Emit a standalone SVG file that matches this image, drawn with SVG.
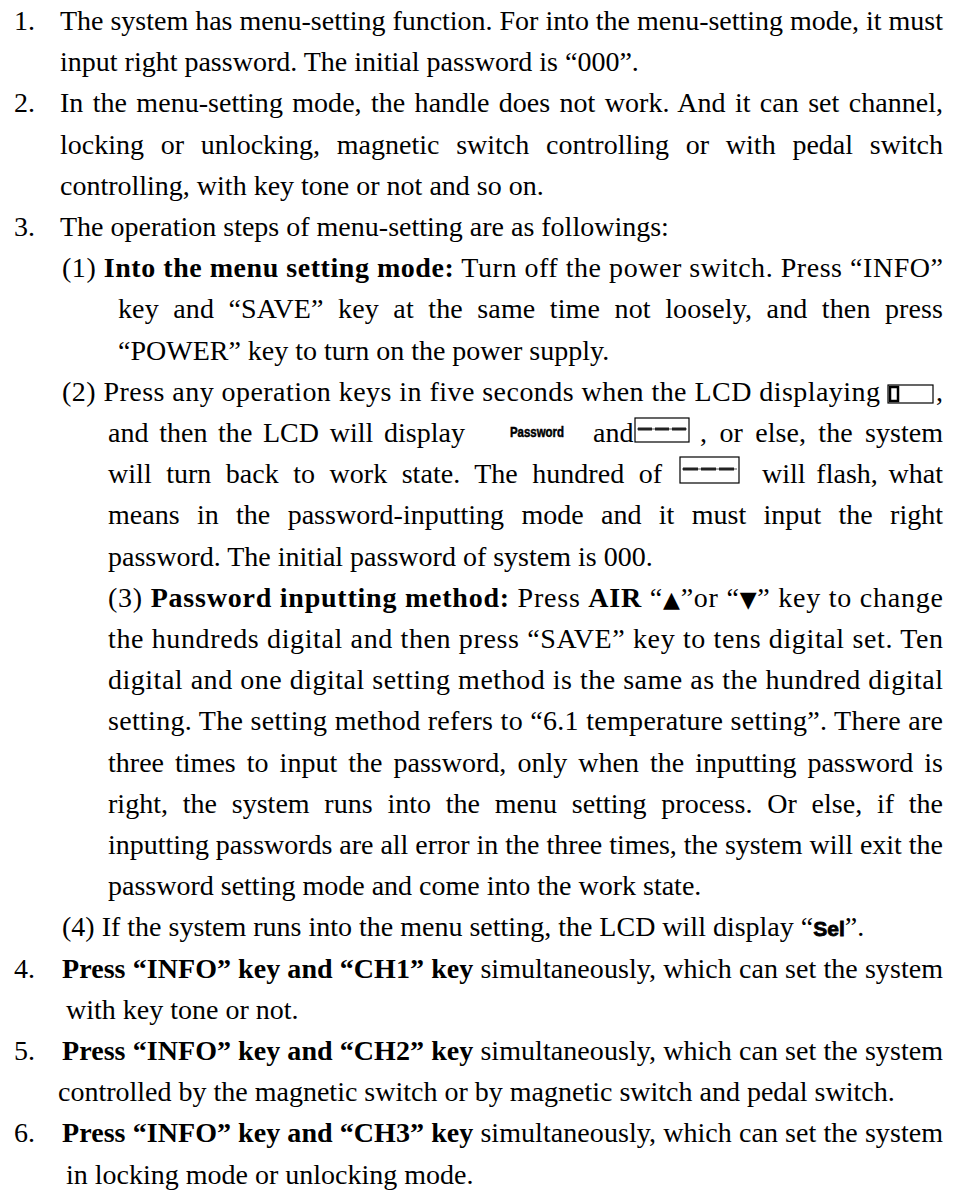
<svg xmlns="http://www.w3.org/2000/svg" width="955" height="1197" viewBox="0 0 955 1197">
<style>
.t{font-family:"Liberation Serif","Times New Roman",serif;font-size:28px;fill:#000}
.b{font-weight:bold}
.lcd{font-family:"Liberation Sans",Arial,sans-serif;font-weight:900;fill:#000;stroke:#000}
.box{fill:#fff;stroke:#000;stroke-width:1.2}
.dash{fill:#222}
</style>
<rect width="955" height="1197" fill="#fff"/>
<g id="p1">
<text class="t" x="14" y="30">1.</text>
<text class="t" x="60" y="30" textLength="883" lengthAdjust="spacing">The system has menu-setting function. For into the menu-setting mode, it must</text>
<text class="t" x="60" y="71.2">input right password. The initial password is “000”.</text>
</g>
<g id="p2">
<text class="t" x="14" y="112.4">2.</text>
<text class="t" x="60" y="112.4" word-spacing="2.3" textLength="883" lengthAdjust="spacing">In the menu-setting mode, the handle does not work. And it can set channel,</text>
<text class="t" x="60" y="153.6" word-spacing="9.7" textLength="883" lengthAdjust="spacing">locking or unlocking, magnetic switch controlling or with pedal switch</text>
<text class="t" x="60" y="194.8">controlling, with key tone or not and so on.</text>
</g>
<g id="p3">
<text class="t" x="14" y="236">3.</text>
<text class="t" x="60" y="236">The operation steps of menu-setting are as followings:</text>
</g>
<g id="s1">
<text class="t" x="62" y="277.2" textLength="881" lengthAdjust="spacing">(1) <tspan class="b">Into the menu setting mode:</tspan> Turn off the power switch. Press “INFO”</text>
<text class="t" x="118" y="318.4" word-spacing="7.4" textLength="825" lengthAdjust="spacing">key and “SAVE” key at the same time not loosely, and then press</text>
<text class="t" x="118" y="359.6">“POWER” key to turn on the power supply.</text>
</g>
<g id="s2">
<text class="t" x="62" y="400.8" textLength="818" lengthAdjust="spacing">(2) Press any operation keys in five seconds when the LCD displaying</text>
<g id="icon-lcd">
<rect class="box" x="888" y="385" width="45" height="18" stroke-width="1.5"/>
<rect x="890" y="387" width="8" height="14" fill="#fff" stroke="#000" stroke-width="2.5"/>
</g>
<text class="t" x="936" y="400.8">,</text>
<text class="t" x="108" y="442" word-spacing="3.6" textLength="357" lengthAdjust="spacing">and then the LCD will display</text>
<text class="lcd" x="510" y="437" font-size="14" stroke-width="0.5" textLength="54" lengthAdjust="spacingAndGlyphs">Password</text>
<text class="t" x="593" y="442">and</text>
<g id="box1">
<rect class="box" x="635" y="418" width="54" height="24"/>
<line x1="637" y1="429" x2="687" y2="429" stroke="#555" stroke-width="1"/>
<rect class="dash" x="638" y="427.5" width="14" height="3"/>
<rect class="dash" x="655" y="427.5" width="14" height="3"/>
<rect class="dash" x="672" y="427.5" width="14" height="3"/>
</g>
<text class="t" x="700" y="442" word-spacing="5.4" textLength="243" lengthAdjust="spacing">, or else, the system</text>
<text class="t" x="108" y="483.2" word-spacing="7.4" textLength="554" lengthAdjust="spacing">will turn back to work state. The hundred of</text>
<g id="box2">
<rect class="box" x="680" y="457" width="59" height="26"/>
<line x1="682" y1="469" x2="737" y2="469" stroke="#555" stroke-width="1"/>
<rect class="dash" x="683" y="467.5" width="15" height="3"/>
<rect class="dash" x="701" y="467.5" width="15" height="3"/>
<rect class="dash" x="719" y="467.5" width="15" height="3"/>
</g>
<text class="t" x="762" y="483.2" word-spacing="3.6" textLength="181" lengthAdjust="spacing">will flash, what</text>
<text class="t" x="108" y="524.4" word-spacing="10.3" textLength="835" lengthAdjust="spacing">means in the password-inputting mode and it must input the right</text>
<text class="t" x="108" y="565.6">password. The initial password of system is 000.</text>
</g>
<g id="s3">
<text class="t" x="108" y="606.8" textLength="835" lengthAdjust="spacing">(3) <tspan class="b">Password inputting method:</tspan> Press <tspan class="b">AIR</tspan> “<tspan font-family="DejaVu Sans" font-size="22">▲</tspan>”or “<tspan font-family="DejaVu Sans" font-size="22">▼</tspan>” key to change</text>
<text class="t" x="108" y="648" textLength="835" lengthAdjust="spacing">the hundreds digital and then press “SAVE” key to tens digital set. Ten</text>
<text class="t" x="108" y="689.2" textLength="835" lengthAdjust="spacing">digital and one digital setting method is the same as the hundred digital</text>
<text class="t" x="108" y="730.4" textLength="835" lengthAdjust="spacing">setting. The setting method refers to “6.1 temperature setting”. There are</text>
<text class="t" x="108" y="771.6" word-spacing="4" textLength="835" lengthAdjust="spacing">three times to input the password, only when the inputting password is</text>
<text class="t" x="108" y="812.8" word-spacing="7.7" textLength="835" lengthAdjust="spacing">right, the system runs into the menu setting process. Or else, if the</text>
<text class="t" x="108" y="854" textLength="835" lengthAdjust="spacing">inputting passwords are all error in the three times, the system will exit the</text>
<text class="t" x="108" y="895.2">password setting mode and come into the work state.</text>
</g>
<g id="s4">
<text class="t" x="62" y="936.4">(4) If the system runs into the menu setting, the LCD will display “<tspan class="lcd" font-size="21" stroke-width="0.8">Sel</tspan>”.</text>
</g>
<g id="p4">
<text class="t" x="14" y="977.6">4.</text>
<text class="t" x="62" y="977.6" textLength="881" lengthAdjust="spacing"><tspan class="b">Press “INFO” key and “CH1” key</tspan> simultaneously, which can set the system</text>
<text class="t" x="66" y="1018.8">with key tone or not.</text>
</g>
<g id="p5">
<text class="t" x="14" y="1060">5.</text>
<text class="t" x="62" y="1060" textLength="881" lengthAdjust="spacing"><tspan class="b">Press “INFO” key and “CH2” key</tspan> simultaneously, which can set the system</text>
<text class="t" x="58" y="1101.2">controlled by the magnetic switch or by magnetic switch and pedal switch.</text>
</g>
<g id="p6">
<text class="t" x="14" y="1142.4">6.</text>
<text class="t" x="62" y="1142.4" textLength="881" lengthAdjust="spacing"><tspan class="b">Press “INFO” key and “CH3” key</tspan> simultaneously, which can set the system</text>
<text class="t" x="66" y="1183.6">in locking mode or unlocking mode.</text>
</g>
</svg>
